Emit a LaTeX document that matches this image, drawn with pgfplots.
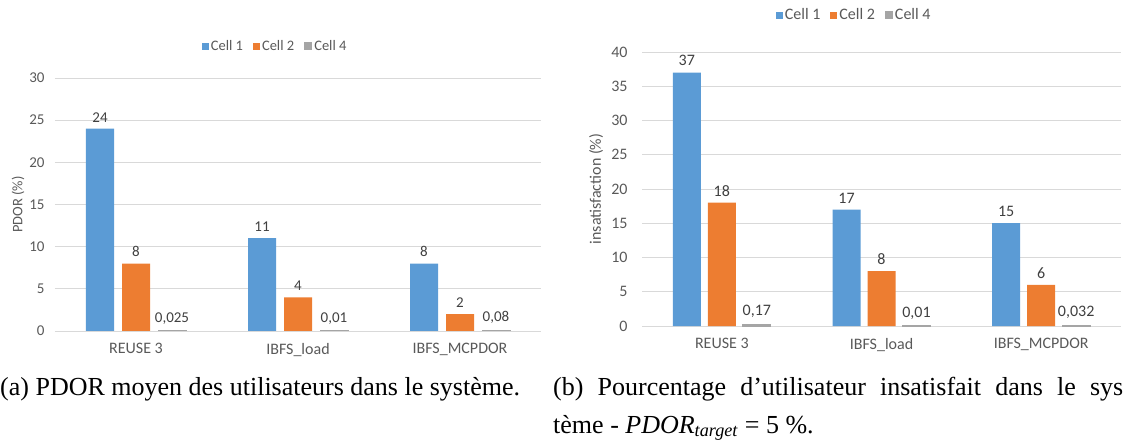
\documentclass[border=0pt]{standalone}
\usepackage{fontspec}
\setmainfont{Carlito}
\newfontfamily\capfont{Liberation Serif}
\usepackage{pgfplots}
\pgfplotsset{compat=1.18}
\definecolor{cA}{HTML}{5B9BD5}
\definecolor{cB}{HTML}{ED7D31}
\definecolor{cC}{HTML}{A5A5A5}
\definecolor{gridc}{HTML}{D9D9D9}
\definecolor{tickc}{HTML}{595959}
\definecolor{labc}{HTML}{404040}
\newcommand{\cf}{\fontsize{15}{17}\selectfont}
\newcommand{\lf}{\fontsize{14.5}{17}\selectfont}
\newcommand{\xf}{\fontsize{16}{18}\selectfont}
\pgfplotsset{
  excel/.style={
    scale only axis,
    bar width=28pt,
    xmin=-0.5, xmax=2.5,
    xtick={0,1,2},
    xticklabels={REUSE 3, IBFS\_load, IBFS\_MCPDOR},
    ymin=0, ytick distance=5,
    axis line style={draw=none},
    major tick length=0pt,
    ymajorgrids, grid style={gridc, line width=0.9pt},
    tick label style={font=\cf, text=tickc},
    /pgf/number format/assume math mode=true,
    xticklabel style={anchor=north, yshift=-9pt, font=\xf},
    label style={font=\lf, text=tickc},
    nodes near coords, point meta=explicit symbolic,
    every node near coord/.append style={font=\cf, text=labc, yshift=3pt},
    legend style={draw=none, fill=none, font=\lf, text=tickc, legend columns=3,
      /tikz/every even column/.append style={column sep=8pt},
      inner sep=0pt, anchor=center},
  },
  sqleg/.style={legend image code/.code={\fill[##1] (0pt,-3.5pt) rectangle (7pt,3.5pt);}},
}
\begin{document}
\begin{tikzpicture}
\useasboundingbox (0,0) rectangle (1123pt,447pt);
\clip (0,0) rectangle (1123pt,447pt);
% left chart
\begin{axis}[excel, ybar=8pt, sqleg, at={(55pt,116pt)}, anchor=south west,
  width=486pt, height=253pt, ymax=30,
  yticklabel style={xshift=-7pt},
  ylabel={PDOR (\%)},
  every axis y label/.append style={at={(axis description cs:-0.076,0.5)}, anchor=center},
  legend style={at={(axis description cs:0.453,1.126)}},
]
\addplot[fill=cA, draw=none] coordinates {(0,24) [24] (1,11) [11] (2,8) [8]};
\addplot[fill=cB, draw=none] coordinates {(0,8) [8] (1,4) [4] (2,2) [2]};
\addplot[fill=cC, draw=cC, line width=1pt] coordinates {(0,0.025) [{0,025}] (1,0.01) [{0,01}] (2,0.08) [{0,08}]};
\legend{Cell 1, Cell 2, Cell 4}
\end{axis}
% right chart
\begin{axis}[excel, ybar=7pt, sqleg, at={(642pt,121pt)}, anchor=south west,
  width=479pt, height=274pt, ymax=40,
  tick label style={font=\xf},
  yticklabel style={xshift=-11pt},
  ylabel={insatisfaction (\%)},
  label style={font=\xf},
  every node near coord/.append style={font=\xf},
  every axis y label/.append style={at={(axis description cs:-0.096,0.5)}, anchor=center},
  legend style={at={(axis description cs:0.443,1.135)}, font=\xf},
]
\addplot[fill=cA, draw=none] coordinates {(0,37) [37] (1,17) [17] (2,15) [15]};
\addplot[fill=cB, draw=none] coordinates {(0,18) [18] (1,8) [8] (2,6) [6]};
\addplot[fill=cC, draw=cC, line width=1pt] coordinates {(0,0.17) [{0,17}] (1,0.01) [{0,01}] (2,0.032) [{0,032}]};
\legend{Cell 1, Cell 2, Cell 4}
\end{axis}
% captions
\node[anchor=base west, inner sep=0pt, font=\capfont\fontsize{26}{30}\selectfont] at (0pt,52pt)
  {(a) PDOR moyen des utilisateurs dans le système.};
\node[anchor=base west, inner sep=0pt, font=\capfont\fontsize{26}{30}\selectfont] at (553pt,52pt)
  {\makebox[570pt][s]{(b) Pourcentage d’utilisateur insatisfait dans le sys}-};
\node[anchor=base west, inner sep=0pt, font=\capfont\fontsize{26}{30}\selectfont] at (553pt,14pt)
  {tème - \textit{PDOR}\textsubscript{\textit{target}} = 5 \%.};
\end{tikzpicture}
\end{document}
